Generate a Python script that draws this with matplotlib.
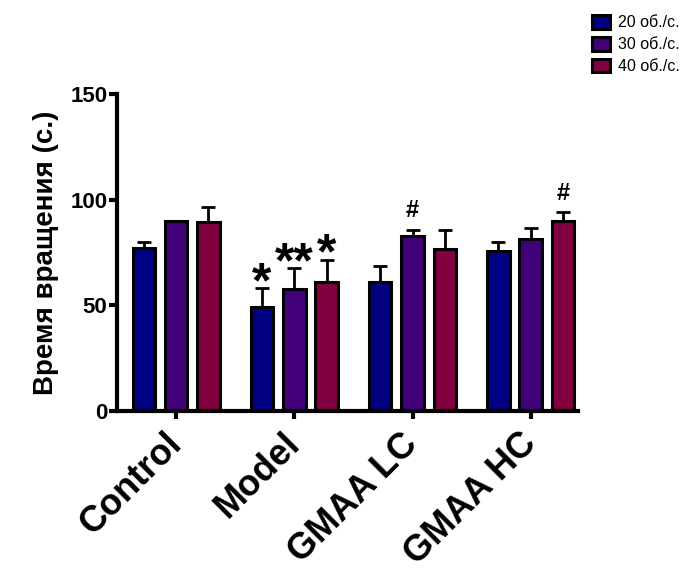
import numpy as np
import matplotlib.pyplot as plt

plt.rcParams['font.family'] = ['Liberation Sans', 'DejaVu Sans']

groups = ["Control", "Model", "GMAA LC", "GMAA HC"]
series = ["20 об./с.", "30 об./с.", "40 об./с."]
colors = ['#000080', '#43007B', '#800040']

means = [
    [77.3, 49.0, 61.0, 75.9],   # 20
    [89.9, 57.7, 83.0, 81.4],   # 30
    [89.3, 61.2, 76.8, 89.9],   # 40
]
errs = [
    [2.5, 9.0, 7.6, 3.9],
    [0.0, 10.0, 2.7, 5.3],
    [7.1, 10.4, 9.0, 4.3],
]
marks = [
    ["", "*", "", ""],
    ["", "**", "#", ""],
    ["", "*", "", "#"],
]

fig = plt.figure(figsize=(6.87, 5.71), dpi=100)
ax = fig.add_axes([117 / 687, 1 - 411 / 571, (578 - 117) / 687, (411 - 94) / 571])

x = np.arange(len(groups))
step = 0.273
width = 0.19
for i in range(3):
    pos = x + (i - 1) * step
    ax.bar(pos, means[i], width=width, color=colors[i], edgecolor='black',
           linewidth=2.2, label=series[i], zorder=2)
    ax.errorbar(pos, np.array(means[i]) + np.array(errs[i]) / 2, yerr=np.array(errs[i]) / 2,
                fmt='none', ecolor='black', elinewidth=2, capsize=5, capthick=2, zorder=1)
    for j in range(len(groups)):
        m = marks[i][j]
        if m == "":
            continue
        top = means[i][j] + errs[i][j]
        if m == "#":
            ax.text(pos[j], top + 3.5, m, ha='center', va='bottom', fontsize=17,
                    fontweight='bold')
        else:
            ax.text(pos[j], top - 9, m, ha='center', va='bottom', fontsize=36,
                    fontweight='bold')

ax.set_ylim(0, 150)
ax.set_xlim(-0.5, 3.4)
ax.set_yticks([0, 50, 100, 150])
ax.set_xticks(x)
ax.set_xticklabels(groups, rotation=45, ha='right', va='center', rotation_mode='anchor',
                   fontsize=26, fontweight='bold')
ax.tick_params(axis='x', pad=14)
for lbl in ax.get_yticklabels():
    lbl.set_fontweight('bold')
    lbl.set_fontsize(16)
ax.set_ylabel("Время вращения (с.)", fontsize=20, fontweight='bold', labelpad=8)

for s in ['top', 'right']:
    ax.spines[s].set_visible(False)
for s in ['left', 'bottom']:
    ax.spines[s].set_linewidth(3)
ax.tick_params(axis='both', width=3, length=6)
ax.tick_params(axis='y', pad=1)

ax.legend(loc='upper left', bbox_to_anchor=(592 / 687, 1 - 15 / 571), bbox_transform=fig.transFigure,
          frameon=False, fontsize=11.5, handlelength=1.13, handleheight=0.95,
          labelspacing=0.4, handletextpad=0.5, borderaxespad=0, borderpad=0)

fig.savefig("out.png", dpi=100)
